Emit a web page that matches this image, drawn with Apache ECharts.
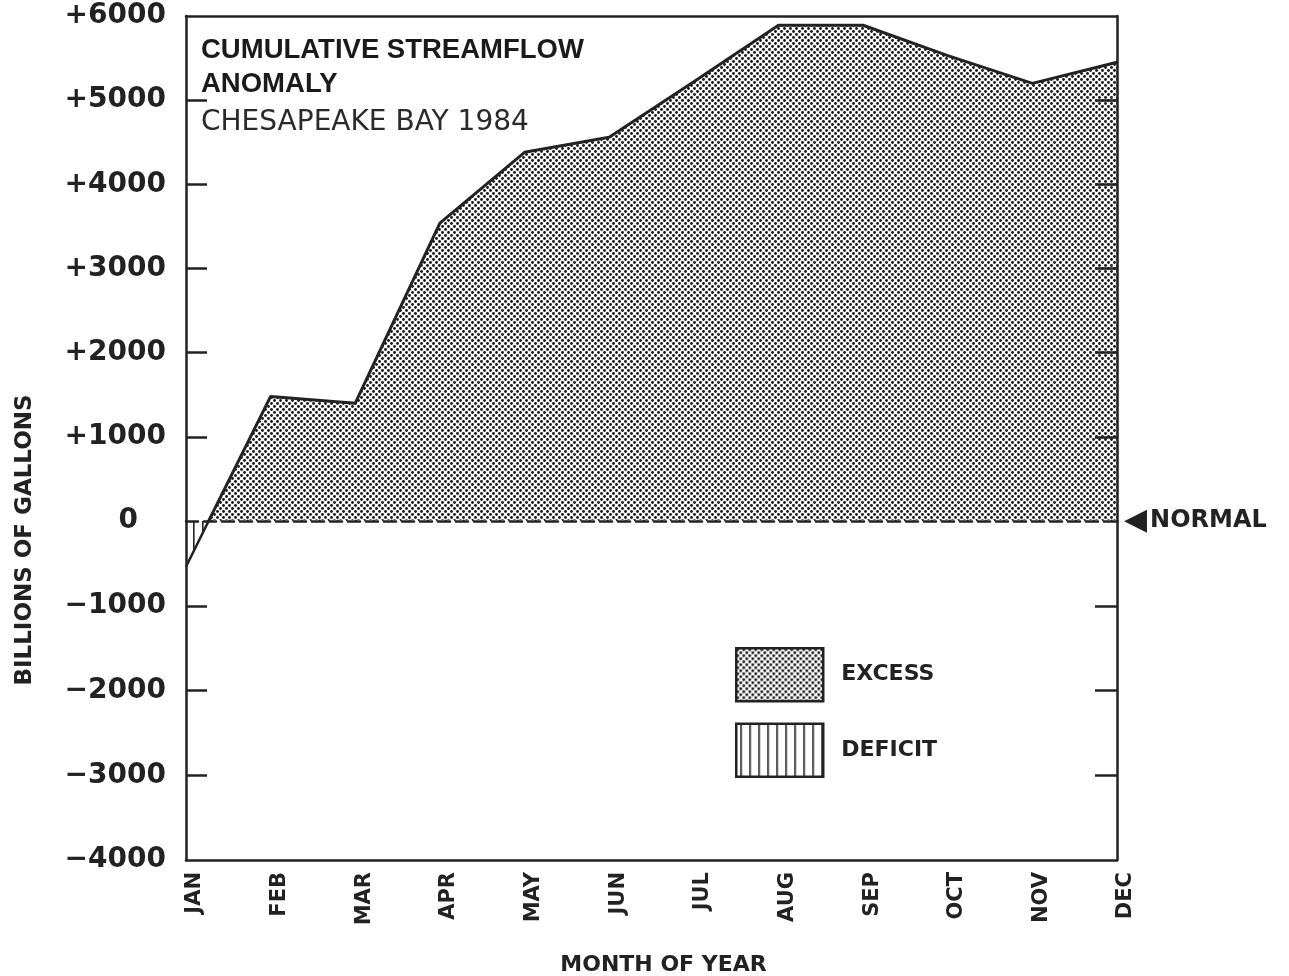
<!DOCTYPE html>
<html>
<head>
<meta charset="utf-8">
<script src="https://cdn.jsdelivr.net/npm/echarts@6/dist/echarts.min.js"></script>
<style>
html,body{margin:0;padding:0;background:#fff;}
#c{width:1289px;height:976px;}
</style>
</head>
<body>
<div id="c"></div>
<script>
// ---- data ----
const months = ['JAN','FEB','MAR','APR','MAY','JUN','JUL','AUG','SEP','OCT','NOV','DEC'];
const anomaly = [-540, 1480, 1400, 3540, 4380, 4560, 5220, 5890, 5890, 5530, 5200, 5450];
const upperTicks = [0, 1000, 2000, 3000, 4000, 5000, 6000];
const lowerTicks = [-4000, -3000, -2000, -1000, 0];
const titleLines = 'CUMULATIVE STREAMFLOW\nANOMALY';
const subTitle = 'CHESAPEAKE BAY 1984';
const yName = 'BILLIONS OF GALLONS';
const xName = 'MONTH OF YEAR';
const normalLabel = 'NORMAL';
const legendNames = ['EXCESS', 'DEFICIT'];

// ---- patterns ----
function dotPattern() {
  const c = document.createElement('canvas');
  c.width = 6; c.height = 6;
  const g = c.getContext('2d');
  g.fillStyle = '#fff'; g.fillRect(0, 0, 6, 6);
  g.fillStyle = '#1a1a1a';
  [[1.5, 1.5], [4.5, 4.5]].forEach(p => { g.beginPath(); g.arc(p[0], p[1], 1.45, 0, Math.PI * 2); g.fill(); });
  return { image: c, repeat: 'repeat' };
}
function stripePattern() {
  const c = document.createElement('canvas');
  c.width = 9; c.height = 4;
  const g = c.getContext('2d');
  g.fillStyle = '#fff'; g.fillRect(0, 0, 9, 4);
  g.fillStyle = '#222'; g.fillRect(4, 0, 1.6, 4);
  return { image: c, repeat: 'repeat' };
}
const DOTS = dotPattern();
const STRIPES = stripePattern();
const INK = '#222';
const FONT = 'DejaVu Sans';

function fmtY(v) {
  if (v > 0) return '+' + v;
  if (v < 0) return '\u2212' + (-v);
  return '{z|0}';
}

const chart = echarts.init(document.getElementById('c'), null, { renderer: 'canvas' });
const gridL = 186, gridR = 172;
const axisLineStyle = { color: INK, width: 2.5 };

chart.setOption({
  backgroundColor: '#fff',
  animation: false,
  title: {
    text: titleLines,
    subtext: subTitle,
    left: 196, top: 28,
    itemGap: 6,
    textStyle: { fontFamily: 'Liberation Sans', fontWeight: 'bold', fontSize: 27.5, lineHeight: 34, color: '#1a1a1a' },
    subtextStyle: { fontFamily: FONT, fontSize: 28, lineHeight: 32, color: '#2a2a2a' }
  },
  legend: {
    orient: 'vertical', left: 735, top: 647, padding: 0,
    itemWidth: 87, itemHeight: 53, itemGap: 20,
    selectedMode: false,
    textStyle: { fontFamily: FONT, fontWeight: 'bold', fontSize: 22, color: INK, padding: [0, 0, 0, 13] },
    data: [
      { name: legendNames[0], icon: 'rect', itemStyle: { color: DOTS, borderColor: INK, borderWidth: 2.5 } },
      { name: legendNames[1], icon: 'rect', itemStyle: { color: STRIPES, borderColor: INK, borderWidth: 2.5 } }
    ]
  },
  grid: [
    { left: gridL, right: gridR, top: 16, height: 505, outerBoundsMode: 'none' },
    { left: gridL, right: gridR, top: 521, height: 339, outerBoundsMode: 'none' }
  ],
  xAxis: [
    { type: 'category', gridIndex: 0, data: months, boundaryGap: false, position: 'top',
      axisLine: { onZero: false, lineStyle: axisLineStyle }, axisTick: { show: false }, axisLabel: { show: false } },
    { type: 'category', gridIndex: 0, data: months, boundaryGap: false, position: 'bottom',
      axisLine: { onZero: false, lineStyle: { color: INK, width: 2.5, type: [12, 6] } }, axisTick: { show: false }, axisLabel: { show: false }, z: 5 },
    { type: 'category', gridIndex: 1, data: months, boundaryGap: false, position: 'bottom',
      axisLine: { onZero: false, lineStyle: axisLineStyle }, axisTick: { show: false },
      axisLabel: { rotate: 90, margin: 12, verticalAlign: 'top', lineHeight: 18, fontFamily: FONT, fontWeight: 'bold', fontSize: 21, color: INK, interval: 0 },
      name: xName, nameLocation: 'middle', nameGap: 94,
      nameTextStyle: { fontFamily: FONT, fontWeight: 'bold', fontSize: 22, color: INK, padding: [0, 0, 0, 24] } }
  ],
  yAxis: [
    { type: 'value', gridIndex: 0, min: upperTicks[0], max: upperTicks[upperTicks.length - 1], interval: 1000,
      position: 'left', splitLine: { show: false }, z: 5,
      axisLine: { show: true, onZero: false, lineStyle: axisLineStyle },
      axisTick: { show: true, inside: true, length: 21, lineStyle: { color: INK, width: 2.5 }, customValues: upperTicks.slice(1, -1) },
      axisLabel: { formatter: fmtY, margin: 20, fontFamily: FONT, fontWeight: 'bold', fontSize: 28, color: INK,
        rich: { z: { fontFamily: FONT, fontWeight: 'bold', fontSize: 28, color: INK, padding: [0, 28, 0, 0] } } } },
    { type: 'value', gridIndex: 0, min: upperTicks[0], max: upperTicks[upperTicks.length - 1], interval: 1000,
      position: 'right', splitLine: { show: false }, z: 5,
      axisLine: { show: true, onZero: false, lineStyle: axisLineStyle },
      axisTick: { show: true, inside: true, length: 22, lineStyle: { color: INK, width: 2.5 }, customValues: upperTicks.slice(1, -1) },
      axisLabel: { show: false } },
    { type: 'value', gridIndex: 1, min: lowerTicks[0], max: lowerTicks[lowerTicks.length - 1], interval: 1000,
      position: 'left', splitLine: { show: false }, z: 5,
      axisLine: { show: true, onZero: false, lineStyle: axisLineStyle },
      axisTick: { show: true, inside: true, length: 21, lineStyle: { color: INK, width: 2.5 }, customValues: lowerTicks.slice(1, -1) },
      axisLabel: { formatter: v => (v === 0 ? '' : fmtY(v)), margin: 20, fontFamily: FONT, fontWeight: 'bold', fontSize: 28, color: INK } },
    { type: 'value', gridIndex: 1, min: lowerTicks[0], max: lowerTicks[lowerTicks.length - 1], interval: 1000,
      position: 'right', splitLine: { show: false }, z: 5,
      axisLine: { show: true, onZero: false, lineStyle: axisLineStyle },
      axisTick: { show: true, inside: true, length: 22, lineStyle: { color: INK, width: 2.5 }, customValues: lowerTicks.slice(1, -1) },
      axisLabel: { show: true, margin: 7, formatter: v => (v === 0 ? '{a|\u25C0}{n|' + normalLabel + '}' : ''),
        rich: {
          a: { fontFamily: FONT, fontSize: 30, color: INK, padding: [0, 3, 0, 0] },
          n: { fontFamily: FONT, fontWeight: 'bold', fontSize: 24, color: INK }
        } } }
  ],
  graphic: [
    { type: 'text', x: 25, y: 540, rotation: Math.PI / 2,
      style: { text: yName, fontFamily: FONT, fontWeight: 'bold', fontSize: 23, fill: INK, align: 'center', verticalAlign: 'middle' } }
  ],
  series: [
    { name: legendNames[0], type: 'line', xAxisIndex: 0, yAxisIndex: 0, data: anomaly,
      showSymbol: false, clip: true,
      itemStyle: { color: INK },
      lineStyle: { color: INK, width: 3 },
      areaStyle: { color: DOTS, opacity: 1, origin: 'start' }, z: 2 },
    { name: legendNames[1], type: 'line', xAxisIndex: 2, yAxisIndex: 2, data: anomaly,
      showSymbol: false, clip: true,
      itemStyle: { color: INK },
      lineStyle: { color: INK, width: 2.5 },
      areaStyle: { color: STRIPES, opacity: 1, origin: 'end' }, z: 2 }
  ]
});
</script>
</body>
</html>
